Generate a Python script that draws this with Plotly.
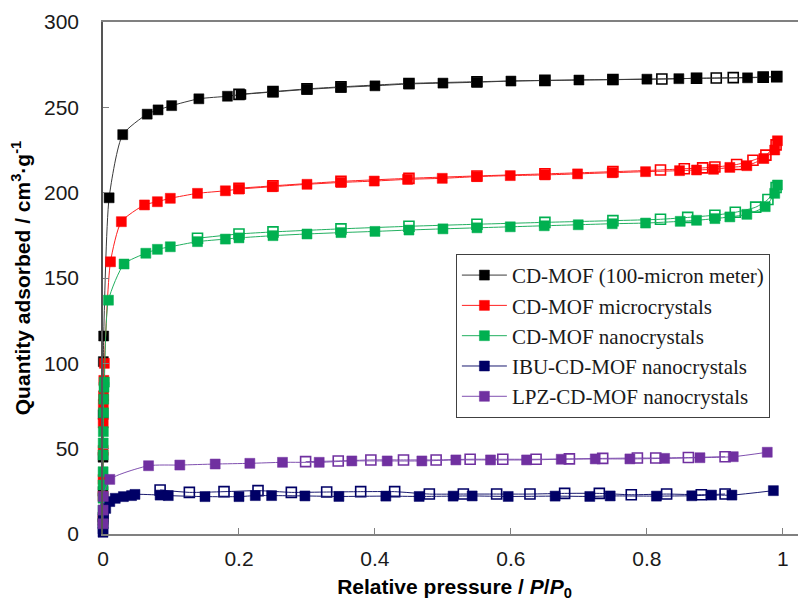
import plotly.graph_objects as go

# ---------------- data ----------------
# CD-MOF (100-micron meter)
blk_ads_x = [0.00002, 0.00005, 0.0001, 0.0002, 0.0005, 0.001, 0.009, 0.029, 0.065, 0.081, 0.101, 0.141, 0.183, 0.203, 0.25, 0.3, 0.35, 0.4, 0.45, 0.5, 0.55, 0.6, 0.65, 0.7, 0.75, 0.8, 0.847, 0.873, 0.948, 0.971, 0.991]
blk_ads_y = [10, 25, 45, 70, 101, 116, 197, 234, 246, 248.5, 251, 255, 256.5, 257.5, 259, 260.5, 261.7, 262.6, 263.7, 264.2, 264.7, 265.4, 265.7, 266, 266.2, 266.5, 266.8, 267, 267.3, 267.6, 268]
blk_des_x = [0.991, 0.971, 0.927, 0.902, 0.873, 0.822, 0.75, 0.65, 0.55, 0.45, 0.35, 0.3, 0.25, 0.2]
blk_des_y = [268, 267.7, 267.4, 267.2, 267, 266.6, 266.3, 265.8, 265, 264, 262, 260.8, 259.2, 257.6]

# CD-MOF microcrystals
red_ads_x = [0.00002, 0.00005, 0.0001, 0.0002, 0.0003, 0.0005, 0.0008, 0.0012, 0.002, 0.011, 0.027, 0.061, 0.08, 0.099, 0.139, 0.18, 0.2, 0.249, 0.3, 0.35, 0.399, 0.448, 0.499, 0.55, 0.599, 0.65, 0.698, 0.749, 0.798, 0.848, 0.873, 0.898, 0.922, 0.947, 0.972, 0.988, 0.992]
red_ads_y = [8, 22, 32, 49, 65, 76, 81, 90, 100, 159.5, 183, 192.8, 194.7, 196.7, 199.6, 201.1, 202.1, 203.5, 204.9, 206, 206.8, 207.8, 208.4, 209.4, 210, 210.4, 211, 211.7, 212.3, 212.9, 213.3, 213.7, 214.8, 215.8, 220, 225, 230.4]
red_des_x = [0.99, 0.975, 0.956, 0.932, 0.9, 0.882, 0.855, 0.82, 0.75, 0.65, 0.55, 0.45, 0.35, 0.25, 0.2]
red_des_y = [228, 222, 219, 216.5, 215, 214.5, 214, 213.3, 212.3, 211, 209.8, 208.4, 206.6, 204, 202.6]

# CD-MOF nanocrystals
grn_ads_x = [0.00002, 0.00004, 0.00007, 0.0001, 0.00015, 0.0002, 0.0003, 0.0005, 0.0007, 0.001, 0.0015, 0.002, 0.008, 0.031, 0.063, 0.08, 0.099, 0.139, 0.18, 0.2, 0.25, 0.3, 0.35, 0.4, 0.45, 0.5, 0.55, 0.599, 0.649, 0.699, 0.749, 0.798, 0.849, 0.873, 0.9, 0.922, 0.947, 0.974, 0.988, 0.992]
grn_ads_y = [6.4, 14, 21, 28.7, 36.5, 46.3, 53.3, 60, 71, 79, 86, 89, 137, 158.2, 164.5, 166.8, 168.3, 171.3, 172.8, 173.5, 174.8, 175.8, 176.6, 177.3, 178.1, 178.8, 179.4, 180, 180.6, 181.2, 181.8, 182.2, 183.2, 183.8, 184.8, 185.8, 187.3, 191.8, 199.6, 204.5]
grn_des_x = [0.99, 0.978, 0.96, 0.93, 0.9, 0.86, 0.82, 0.75, 0.65, 0.55, 0.45, 0.35, 0.25, 0.2, 0.139]
grn_des_y = [203, 196, 191.5, 188.5, 186.8, 185.5, 184.4, 183.6, 182.6, 181.5, 180.3, 178.8, 177, 175.8, 173.3]

# IBU-CD-MOF nanocrystals
ibu_ads_x = [0.00002, 0.00005, 0.0001, 0.0003, 0.0008, 0.004, 0.01, 0.018, 0.03, 0.042, 0.047, 0.084, 0.096, 0.15, 0.2, 0.224, 0.248, 0.297, 0.347, 0.416, 0.465, 0.515, 0.543, 0.596, 0.665, 0.716, 0.746, 0.814, 0.866, 0.895, 0.925, 0.986]
ibu_ads_y = [1, 3, 6, 9, 12, 15, 19, 20.9, 21.9, 22.5, 23.2, 22.8, 22.5, 21.9, 21.9, 22.5, 22.5, 22.3, 22.0, 22.2, 22.0, 22.2, 22.3, 22.0, 22.2, 22.0, 22.3, 22.2, 22.4, 22.8, 22.8, 25.4]
ibu_des_x = [0.915, 0.88, 0.829, 0.777, 0.73, 0.679, 0.628, 0.579, 0.53, 0.48, 0.429, 0.379, 0.329, 0.277, 0.228, 0.178, 0.127, 0.084]
ibu_des_y = [23.4, 23.0, 23.4, 23.0, 23.8, 23.8, 23.4, 23.4, 23.4, 23.4, 24.8, 24.8, 24.6, 24.4, 25.4, 24.8, 24.4, 25.8]

# LPZ-CD-MOF nanocrystals
lpz_ads_x = [0.00003, 0.0001, 0.0004, 0.01, 0.067, 0.113, 0.165, 0.216, 0.264, 0.318, 0.366, 0.418, 0.469, 0.519, 0.57, 0.623, 0.674, 0.724, 0.775, 0.826, 0.878, 0.927, 0.977]
lpz_ads_y = [6, 14, 22, 32, 40, 40.4, 41, 41.4, 42, 42, 42.8, 42.8, 42.8, 43.4, 43.4, 43.4, 43.8, 44, 44, 44.3, 44.7, 45.3, 47.9]
lpz_des_x = [0.915, 0.861, 0.813, 0.786, 0.735, 0.686, 0.637, 0.588, 0.54, 0.49, 0.442, 0.394, 0.346, 0.298]
lpz_des_y = [45.3, 44.8, 44.5, 44.5, 44.3, 44.0, 43.8, 43.8, 43.8, 43.4, 43.4, 43.4, 42.8, 42.4]

series_names = ["CD-MOF (100-micron meter)", "CD-MOF microcrystals", "CD-MOF nanocrystals",
                "IBU-CD-MOF nanocrystals", "LPZ-CD-MOF nanocrystals"]
x_ticks = [0, 0.2, 0.4, 0.6, 0.8, 1]
x_tick_text = ["0", "0.2", "0.4", "0.6", "0.8", "1"]
y_ticks = [0, 50, 100, 150, 200, 250, 300]

# ---------------- styling ----------------
marker_colors = ["#000000", "#ff0000", "#00b050", "#000066", "#7030a0"]
line_colors = ["#3a3a3a", "#ff2020", "#22b060", "#1a1a70", "#8050b0"]

ads = [(blk_ads_x, blk_ads_y), (red_ads_x, red_ads_y), (grn_ads_x, grn_ads_y),
       (ibu_ads_x, ibu_ads_y), (lpz_ads_x, lpz_ads_y)]
des = [(blk_des_x, blk_des_y), (red_des_x, red_des_y), (grn_des_x, grn_des_y),
       (ibu_des_x, ibu_des_y), (lpz_des_x, lpz_des_y)]

fig = go.Figure()
for i, name in enumerate(series_names):
    dx, dy = des[i]
    fig.add_trace(go.Scatter(
        x=dx, y=dy, mode="lines+markers", showlegend=False, name=name + " (desorption)",
        cliponaxis=False,
        line=dict(color=line_colors[i], width=1, shape="spline", smoothing=0.6),
        marker=dict(symbol="square-open", size=10, color=marker_colors[i],
                    line=dict(width=1.6, color=marker_colors[i])),
    ))
for i, name in enumerate(series_names):
    ax, ay = ads[i]
    fig.add_trace(go.Scatter(
        x=ax, y=ay, mode="lines+markers", name=name, legendrank=i + 1,
        cliponaxis=False,
        line=dict(color=line_colors[i], width=1, shape="spline", smoothing=0.6),
        marker=dict(symbol="square", size=10, color=marker_colors[i],
                    line=dict(width=0.5, color=marker_colors[i])),
    ))

axis_font = dict(family="Liberation Sans, Arial, sans-serif", size=21, color="#1a1a1a")
title_font = dict(family="Liberation Sans, Arial, sans-serif", size=21, color="#000000")

fig.update_layout(
    width=798, height=596,
    margin=dict(l=95, r=0, t=14, b=70),
    paper_bgcolor="white", plot_bgcolor="white",
    xaxis=dict(
        range=[0, 1.034], tickvals=x_ticks, ticktext=x_tick_text,
        ticks="inside", ticklen=6, tickcolor="#808080", tickwidth=1,
        showline=True, linecolor="#808080", linewidth=1.5, mirror=True,
        showgrid=False, zeroline=False, tickfont=axis_font, automargin=False,
        ticklabelstandoff=5,
        title=dict(text="<b>Relative pressure / <i>P</i>/<i>P</i><sub>0</sub></b>",
                   font=title_font, standoff=10),
    ),
    yaxis=dict(
        range=[0, 300], tickvals=y_ticks,
        ticks="inside", ticklen=6, tickcolor="#808080", tickwidth=1,
        showline=True, linecolor="#555555", linewidth=1.5, mirror=False,
        showgrid=False, zeroline=False, tickfont=axis_font, automargin=False,
        ticklabelstandoff=18,
        title=dict(text="<b>Quantity adsorbed / cm<sup>3</sup>·g<sup>-1</sup></b>",
                   font=title_font, standoff=12),
    ),
    legend=dict(
        x=0.502, y=0.547, xanchor="left", yanchor="top",
        bgcolor="white", bordercolor="#404040", borderwidth=1,
        font=dict(family="Liberation Serif, Times New Roman, serif", size=21, color="#1a1a1a"),
        tracegroupgap=0, traceorder="normal", itemwidth=45,
    ),
)

fig.write_html("out.html")
